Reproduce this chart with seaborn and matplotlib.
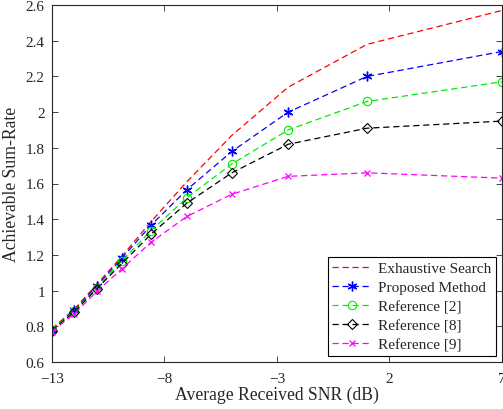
import matplotlib
matplotlib.use("Agg")
import matplotlib.pyplot as plt
import seaborn as sns

snr = [-13, -12, -11, -9.9, -8.6, -7, -5, -2.5, 1, 7]
exhaustive = [0.785, 0.895, 1.035, 1.19, 1.385, 1.61, 1.87, 2.14, 2.38, 2.57]
proposed = [0.78, 0.89, 1.025, 1.18, 1.365, 1.565, 1.78, 2.00, 2.20, 2.34]
ref2 = [0.78, 0.885, 1.015, 1.165, 1.335, 1.52, 1.71, 1.90, 2.06, 2.17]
ref8 = [0.775, 0.88, 1.01, 1.15, 1.315, 1.49, 1.66, 1.82, 1.91, 1.95]
ref9 = [0.77, 0.87, 0.995, 1.12, 1.27, 1.415, 1.54, 1.64, 1.66, 1.63]

sns.set_style("ticks")
plt.rcParams['font.family'] = ['Liberation Serif', 'DejaVu Serif']

fig = plt.figure(figsize=(5.03, 4.10), dpi=100)
ax = fig.add_axes([0.103, 0.115, 0.895, 0.870])

lw = 0.9
dash = (5, 3)
green = '#00ee00'
sns.lineplot(x=snr, y=exhaustive, ax=ax, color='red', lw=lw, label='Exhaustive Search')
sns.lineplot(x=snr, y=proposed, ax=ax, color='blue', lw=lw, marker=(6, 2, 0),
             markersize=7, markeredgewidth=1.0, markeredgecolor='blue',
             label='Proposed Method')
sns.lineplot(x=snr, y=ref2, ax=ax, color=green, lw=lw, marker='o', markersize=6,
             markerfacecolor='none', markeredgecolor=green, markeredgewidth=0.8,
             label='Reference [2]')
sns.lineplot(x=snr, y=ref8, ax=ax, color='black', lw=lw, marker='D', markersize=4.8,
             markerfacecolor='none', markeredgecolor='black', markeredgewidth=0.8,
             label='Reference [8]')
sns.lineplot(x=snr, y=ref9, ax=ax, color='magenta', lw=lw, marker='x', markersize=5,
             markeredgewidth=0.9, markeredgecolor='magenta', label='Reference [9]')
for line in ax.get_lines():
    line.set_linestyle((0, dash))

ax.set_xlim(-13, 7)
ax.set_ylim(0.6, 2.6)
ax.set_xticks([-13, -8, -3, 2, 7])
ax.set_yticks([0.6, 0.8, 1.0, 1.2, 1.4, 1.6, 1.8, 2.0, 2.2, 2.4, 2.6])
ax.set_yticklabels(['0.6', '0.8', '1', '1.2', '1.4', '1.6', '1.8', '2', '2.2', '2.4', '2.6'])
ax.tick_params(direction='in', top=True, right=True, labelsize=11, length=4, width=0.6,
               colors='#262626')
ax.tick_params(axis='x', pad=7)
ax.tick_params(axis='y', pad=5)
for s in ax.spines.values():
    s.set_linewidth(0.8)
    s.set_color('#262626')
    s.set_visible(True)
ax.set_xlabel('Average Received SNR (dB)', fontsize=12.7, labelpad=1)
ax.set_ylabel('Achievable Sum-Rate', fontsize=12.7, labelpad=4)

leg = ax.legend(loc='lower right', fontsize=11, fancybox=False, framealpha=1,
                edgecolor='black', handlelength=2.6, borderaxespad=0.4,
                labelspacing=0.35, borderpad=0.3, handletextpad=0.4)
leg.get_frame().set_linewidth(0.8)

fig.savefig('out.png', dpi=100)
